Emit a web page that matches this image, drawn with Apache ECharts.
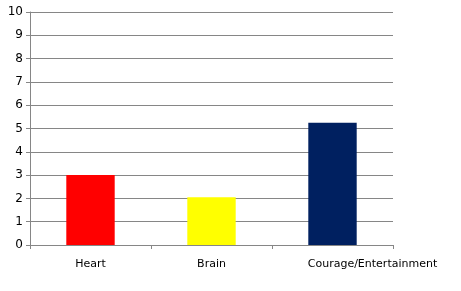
<!DOCTYPE html>
<html><head><meta charset="utf-8">
<script src="https://cdn.jsdelivr.net/npm/echarts@6/dist/echarts.min.js"></script>
<style>html,body{margin:0;padding:0;background:#fff}#c{width:461px;height:291px}</style>
</head><body><div id="c"></div>
<script>
var categories = ['Heart', 'Brain', 'Courage/Entertainment'];
var values = [3.0, 2.05, 5.25];
var barColors = ['#FF0000', '#FFFF00', '#002060'];
var yTicks = [0,1,2,3,4,5,6,7,8,9,10];

var chart = echarts.init(document.getElementById('c'), null, {renderer:'canvas'});
chart.setOption({
  animation: false,
  grid: {left: 30, right: 68, top: 12, bottom: 46, containLabel: false},
  xAxis: {
    type: 'category',
    data: categories.map(function(c, i){
      return i === categories.length - 1 ? {value: c, textStyle: {padding: [0, 0, 0, 80]}} : c;
    }),
    axisLine: {lineStyle: {color: '#868686', width: 1}},
    axisTick: {show: true, alignWithLabel: false, length: 4, lineStyle: {color: '#868686'}},
    axisLabel: {color: '#000', fontFamily: 'DejaVu Sans', fontSize: 11, margin: 14, interval: 0, hideOverlap: false}
  },
  yAxis: {
    type: 'value', min: yTicks[0], max: yTicks[yTicks.length-1], interval: 1,
    axisLine: {show: true, lineStyle: {color: '#868686', width: 1}},
    axisTick: {show: true, length: 4, lineStyle: {color: '#868686'}},
    splitLine: {lineStyle: {color: '#868686', width: 1}},
    axisLabel: {color: '#000', fontFamily: 'DejaVu Sans', fontSize: 12, margin: 7}
  },
  series: [{
    type: 'bar', barWidth: '40%',
    data: values.map(function(v, i){ return {value: v, itemStyle: {color: barColors[i]}}; })
  }]
});
</script></body></html>
